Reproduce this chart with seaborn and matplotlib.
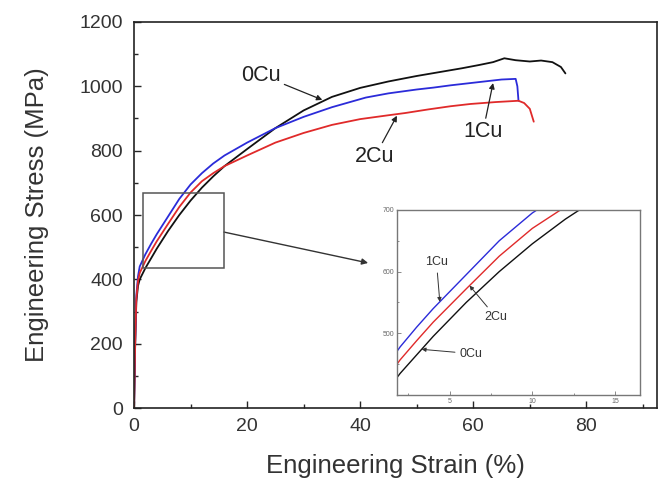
import numpy as np
import pandas as pd
import matplotlib
matplotlib.use("Agg")
import matplotlib.pyplot as plt
from matplotlib.patches import Rectangle
from matplotlib.ticker import MultipleLocator
import seaborn as sns

sns.set_style("ticks")
plt.rcParams["font.family"] = ["Liberation Sans", "DejaVu Sans"]

# 读数 (从图上估计)
strain_0cu = [0, 0.2, 0.4, 0.7, 1, 2, 3, 4, 6, 8, 10, 12, 14, 16, 20, 25, 30, 35, 40,
              45, 50, 55, 58, 61, 63.5, 65.5, 67.5, 70, 72, 74, 75.5, 76.3]
stress_0cu = [0, 200, 330, 380, 400, 435, 465, 495, 550, 600, 645, 685, 720, 752, 805,
              870, 925, 967, 995, 1015, 1032, 1047, 1056, 1066, 1075, 1087, 1081, 1077,
              1080, 1075, 1060, 1040]

strain_1cu = [0, 0.2, 0.4, 0.7, 1, 2, 3, 4, 6, 8, 10, 12, 14, 16, 20, 25, 30, 35, 41,
              45, 50, 53, 56, 59.5, 63, 65, 67.5, 67.8, 68]
stress_1cu = [0, 210, 350, 410, 440, 478, 510, 540, 595, 650, 695, 730, 760, 785, 825,
              870, 905, 935, 965, 978, 990, 996, 1003, 1010, 1017, 1021, 1023, 1000, 955]

strain_2cu = [0, 0.2, 0.4, 0.7, 1, 2, 3, 4, 6, 8, 10, 12, 14, 16, 20, 25, 30, 35, 40,
              45, 48, 52, 56, 59.5, 64, 68, 69, 70, 70.7]
stress_2cu = [0, 205, 340, 395, 420, 457, 488, 518, 572, 625, 670, 705, 730, 752, 785,
              825, 855, 880, 898, 910, 917, 928, 938, 945, 951, 955, 948, 930, 890]

samples = ["0Cu", "1Cu", "2Cu"]
colors = {"0Cu": "#111111", "1Cu": "#2b2bd9", "2Cu": "#e02a2a"}

df = pd.concat([
    pd.DataFrame({"strain": s, "stress": v, "sample": n})
    for s, v, n in [(strain_0cu, stress_0cu, "0Cu"),
                    (strain_1cu, stress_1cu, "1Cu"),
                    (strain_2cu, stress_2cu, "2Cu")]
], ignore_index=True)

fig = plt.figure(figsize=(6.67, 4.87), dpi=100)
ax = fig.add_axes([0.201, 0.162, 0.784, 0.793])

for n in samples:
    sns.lineplot(data=df[df["sample"] == n], x="strain", y="stress", color=colors[n],
                 lw=1.3, ax=ax, sort=False, estimator=None, legend=False)

ax.set_xlim(0, 92.5)
ax.set_ylim(0, 1200)
ax.xaxis.set_major_locator(MultipleLocator(20))
ax.xaxis.set_minor_locator(MultipleLocator(10))
ax.yaxis.set_major_locator(MultipleLocator(200))
ax.yaxis.set_minor_locator(MultipleLocator(100))
ax.tick_params(which="both", direction="in", top=False, right=False, width=1)
ax.tick_params(which="major", length=5, labelsize=14, labelcolor="#333333")
ax.tick_params(axis="x", which="major", pad=7)
ax.tick_params(axis="y", which="major", pad=8)
ax.tick_params(which="minor", length=3)
for sp in ax.spines.values():
    sp.set_linewidth(1.2)
    sp.set_color("#222222")
ax.set_xlabel("Engineering Strain (%)", fontsize=18.5, color="#333333", labelpad=14)
ax.set_ylabel("Engineering Stress (MPa)", fontsize=18.5, color="#333333", labelpad=22)

arrow = dict(arrowstyle="-|>", color="#222222", lw=0.9, mutation_scale=8,
             shrinkA=0, shrinkB=0)
ax.annotate("0Cu", xy=(33.3, np.interp(33.3, strain_0cu, stress_0cu) + 5),
            xytext=(22.5, 1035), fontsize=15.5, color="#222222", ha="center",
            va="center", arrowprops=arrow)
ax.annotate("1Cu", xy=(63.5, np.interp(63.5, strain_1cu, stress_1cu) - 8),
            xytext=(61.7, 858), fontsize=15.5, color="#222222", ha="center",
            va="center", arrowprops=arrow)
ax.annotate("2Cu", xy=(46.5, np.interp(46.5, strain_2cu, stress_2cu) - 5),
            xytext=(42.6, 782), fontsize=15.5, color="#222222", ha="center",
            va="center", arrowprops=arrow)

# 放大区域框
ax.add_patch(Rectangle((1.6, 436), 14.3, 232, fill=False, ec="#555555", lw=1.1, zorder=5))
ax.annotate("", xy=(41.4, 451), xytext=(15.9, 547),
            arrowprops=dict(arrowstyle="-|>", color="#333333", lw=1.0,
                            mutation_scale=9, shrinkA=0, shrinkB=0))

# 插图
ins = fig.add_axes([0.595, 0.189, 0.364, 0.380])
for n in samples:
    sns.lineplot(data=df[df["sample"] == n], x="strain", y="stress", color=colors[n],
                 lw=1.0, ax=ins, sort=False, estimator=None, legend=False)
ins.set_xlim(1.8, 16.5)
ins.set_ylim(400, 700)
ins.set_xticks([5, 10, 15])
ins.set_yticks([500, 600, 700])
ins.xaxis.set_minor_locator(MultipleLocator(2.5))
ins.yaxis.set_minor_locator(MultipleLocator(50))
ins.tick_params(which="both", direction="in", labelsize=5, labelcolor="#666666",
                width=0.6, color="#777777")
ins.tick_params(which="major", length=3, pad=2)
ins.tick_params(which="minor", length=1.5)
ins.set_xlabel("")
ins.set_ylabel("")
for sp in ins.spines.values():
    sp.set_linewidth(1.0)
    sp.set_color("#777777")

small = dict(arrowstyle="-|>", color="#333333", lw=0.7, mutation_scale=6,
             shrinkA=1, shrinkB=0)
ins.annotate("1Cu", xy=(4.4, np.interp(4.4, strain_1cu, stress_1cu)),
             xytext=(4.2, 615), fontsize=9, color="#333333", ha="center",
             va="center", arrowprops=small)
ins.annotate("2Cu", xy=(6.2, np.interp(6.2, strain_2cu, stress_2cu)),
             xytext=(7.8, 526), fontsize=9, color="#333333", ha="center",
             va="center", arrowprops=small)
ins.annotate("0Cu", xy=(3.3, np.interp(3.3, strain_0cu, stress_0cu)),
             xytext=(5.6, 467), fontsize=9, color="#333333", ha="left",
             va="center", arrowprops=small)

fig.savefig("out.png", dpi=100)
